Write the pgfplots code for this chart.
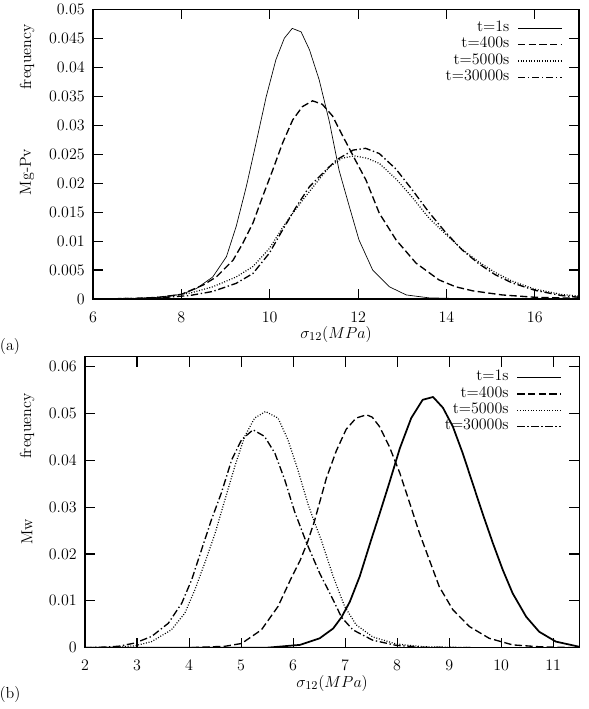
\documentclass[border=0pt]{standalone}
\usepackage{pgfplots}
\pgfplotsset{compat=1.18}
\begin{document}
\fontsize{12}{14}\selectfont
\begin{tikzpicture}
\pgfplotsset{
 mystyle/.style={
  scale only axis,
  anchor=south west,
  axis line style={line width=0.9pt},
  tick align=inside,
  tick pos=both,
  major tick length=7.5pt,
  major tick style={line width=0.8pt,black},
  minor tick num=0,
  scaled y ticks=false,
  yticklabel style={/pgf/number format/fixed,/pgf/number format/precision=3,xshift=-2pt},
  xticklabel style={yshift=-5.5pt},
  tick label style={font=\fontsize{12}{14}\selectfont},
  legend plot pos=right,
  legend cell align=right,
  legend image code/.code={\draw[##1] (0pt,0pt) -- (33pt,0pt);},
  legend style={draw=none,fill=none,font=\fontsize{12}{14}\selectfont,column sep=6pt,inner sep=0pt,
    nodes={inner sep=0pt,text height=8.5pt,text depth=3.75pt},anchor=north east},
  x label style={at={(axis description cs:0.5,0)},anchor=center,yshift=-26.5pt,font=\fontsize{13}{15}\selectfont},
  every axis plot/.append style={line join=round},
 },
 sthin/.style={black,line width=0.5pt},
 sthick/.style={black,line width=1.3pt},
 sdash/.style={black,line width=1pt,dash pattern=on 5.5pt off 2.5pt},
 sdot/.style={black,line width=0.9pt,dash pattern=on 0.7pt off 1.3pt},
 sdashdot/.style={black,line width=1pt,dash pattern=on 5.5pt off 2pt on 1pt off 2pt},
}
% ---------------- panel (a) ----------------
\begin{axis}[mystyle, at={(69.75pt,307.5pt)}, width=364.5pt, height=217.3pt,
  xmin=6, xmax=17, ymin=0, ymax=0.05,
  xtick={6,8,10,12,14,16},
  ytick={0,0.005,0.01,0.015,0.02,0.025,0.03,0.035,0.04,0.045,0.05},
  xlabel={$\sigma_{12}(MPa)$},
  legend style={at={(1,1)},xshift=-12pt,yshift=-8pt}]
\addplot[sthin] coordinates {
(6.0,0) (6.5,0.00003) (7.0,0.0001) (7.5,0.0003) (8.0,0.0008) (8.34,0.0018)
(8.71,0.0038) (9.02,0.0073) (9.24,0.0125) (9.47,0.0194) (9.69,0.0269)
(9.92,0.0349) (10.14,0.0413) (10.33,0.0450) (10.51,0.0467) (10.71,0.0461)
(10.90,0.0430) (11.12,0.0378) (11.35,0.0306) (11.57,0.0222) (11.80,0.0160)
(12.02,0.0102) (12.33,0.0050) (12.71,0.0021) (13.09,0.0007) (13.6,0.0002)
(14.5,0.00003) (17.0,0)};
\addlegendentry{t=1s}
\addplot[sdash] coordinates {
(6.0,0) (6.5,0.00005) (7.0,0.0001) (7.5,0.0003) (8.0,0.0008) (8.49,0.0024)
(8.79,0.0038) (9.17,0.0067) (9.39,0.0096) (9.62,0.0131) (9.84,0.0177)
(10.07,0.0223) (10.29,0.0269) (10.52,0.0309) (10.74,0.0332) (10.97,0.0342)
(11.19,0.0336) (11.42,0.0316) (11.64,0.0283) (11.80,0.0260) (11.95,0.0238)
(12.18,0.0205) (12.48,0.0148) (12.86,0.0102) (13.31,0.0062) (13.83,0.0033)
(14.21,0.0021) (14.6,0.0014) (15.26,0.0007) (16.0,0.0003) (17.0,0.0001)};
\addlegendentry{t=400s}
\addplot[sdot] coordinates {
(6.0,0) (6.5,0.00005) (7.0,0.0001) (7.5,0.0003) (8.19,0.0010) (8.71,0.0021)
(9.24,0.0038) (9.62,0.0056) (9.99,0.0087) (10.29,0.0123) (10.52,0.0148)
(10.75,0.0171) (11.05,0.0200) (11.35,0.0228) (11.64,0.0243) (11.91,0.0247)
(12.2,0.0243) (12.48,0.0234) (12.86,0.0207) (13.23,0.0175) (13.6,0.0140)
(13.98,0.0112) (14.35,0.0086) (14.73,0.0064) (15.1,0.0046) (15.48,0.0031)
(16.0,0.0017) (16.6,0.0008) (17.0,0.0005)};
\addlegendentry{t=5000s}
\addplot[sdashdot] coordinates {
(6.0,0) (6.5,0.00003) (7.0,0.0001) (7.5,0.0002) (8.19,0.0006) (8.71,0.0013)
(9.24,0.0027) (9.62,0.0044) (9.99,0.0079) (10.29,0.0119) (10.6,0.0159)
(10.9,0.0194) (11.2,0.0217) (11.51,0.0240) (11.89,0.0257) (12.17,0.0260)
(12.48,0.0251) (12.86,0.0224) (13.23,0.0188) (13.6,0.0150) (13.98,0.0115)
(14.35,0.0085) (14.73,0.0061) (15.1,0.0042) (15.48,0.0028) (16.0,0.0015)
(16.6,0.0006) (17.0,0.0003)};
\addlegendentry{t=30000s}
\end{axis}
% ---------------- panel (b) ----------------
\begin{axis}[mystyle, at={(63.75pt,45.98pt)}, width=370.7pt, height=218.25pt,
  xmin=2, xmax=11.5, ymin=0, ymax=0.0621,
  xtick={2,3,4,5,6,7,8,9,10,11},
  ytick={0,0.01,0.02,0.03,0.04,0.05,0.06},
  xlabel={$\sigma_{12}(MPa)$},
  legend style={at={(1,1)},xshift=-12.5pt,yshift=-9.3pt}]
\addplot[sthick] coordinates {
(2.0,0) (5.5,0) (6.13,0.0006) (6.51,0.0020) (6.77,0.0041) (6.93,0.0065)
(7.09,0.0098) (7.28,0.0152) (7.50,0.0230) (7.66,0.0285) (7.85,0.0352)
(8.05,0.0425) (8.27,0.0490) (8.49,0.0529) (8.69,0.0535) (8.88,0.0512)
(9.07,0.0472) (9.26,0.0415) (9.45,0.0351) (9.64,0.0287) (9.84,0.0223)
(10.03,0.0166) (10.22,0.0116) (10.48,0.0066) (10.73,0.0034) (11.05,0.0013)
(11.5,0.0002)};
\addlegendentry{t=1s}
\addplot[sdash] coordinates {
(2.0,0) (4.0,0) (4.69,0.0003) (5.01,0.0009) (5.39,0.0038) (5.71,0.0088)
(5.97,0.0150) (6.13,0.0185) (6.27,0.0223) (6.41,0.0270) (6.64,0.0362)
(6.83,0.0420) (7.02,0.0466) (7.21,0.0490) (7.41,0.0497) (7.52,0.0492)
(7.66,0.0472) (7.85,0.0429) (8.05,0.0373) (8.24,0.0309) (8.43,0.0244)
(8.62,0.0187) (8.81,0.0130) (9.07,0.0081) (9.39,0.0045) (9.77,0.0020)
(10.22,0.0006) (10.73,0.0002) (11.5,0)};
\addlegendentry{t=400s}
\addplot[sdot] coordinates {
(2.0,0) (2.5,0.0001) (2.96,0.0004) (3.28,0.0013) (3.66,0.0038) (3.92,0.0074)
(4.11,0.0123) (4.30,0.0180) (4.50,0.0244) (4.69,0.0316) (4.88,0.0387)
(5.07,0.0451) (5.26,0.0490) (5.47,0.0504) (5.71,0.0490) (5.90,0.0444)
(6.09,0.0380) (6.29,0.0305) (6.41,0.0268) (6.54,0.0230) (6.77,0.0152)
(6.99,0.0088) (7.21,0.0049) (7.53,0.0023) (7.98,0.0008) (8.5,0.0002) (9.5,0) (11.5,0)};
\addlegendentry{t=5000s}
\addplot[sdashdot] coordinates {
(2.0,0) (2.3,0.0001) (2.64,0.0003) (2.96,0.0010) (3.28,0.0024) (3.60,0.0052)
(3.86,0.0095) (4.05,0.0145) (4.24,0.0209) (4.43,0.0273) (4.62,0.0330)
(4.82,0.0401) (5.01,0.0444) (5.23,0.0465) (5.45,0.0451) (5.65,0.0415)
(5.84,0.0358) (6.03,0.0290) (6.25,0.0226) (6.51,0.0159) (6.77,0.0102)
(6.93,0.0065) (7.15,0.0038) (7.53,0.0016) (7.98,0.0005) (8.5,0.0001) (9.5,0) (11.5,0)};
\addlegendentry{t=30000s}
\end{axis}
% ---------------- labels ----------------
\node[rotate=90] at (20.25pt,489pt) {frequency};
\node[rotate=90] at (20.25pt,402.75pt) {Mg-Pv};
\node[rotate=90] at (20.25pt,212.25pt) {frequency};
\node[rotate=90] at (20.25pt,132.75pt) {Mw};
\node at (7.5pt,271.7pt) {(a)};
\node at (7.5pt,10.5pt) {(b)};
\pgfresetboundingbox
\path (0pt,0pt) rectangle (441pt,531.75pt);
\end{tikzpicture}
\end{document}
